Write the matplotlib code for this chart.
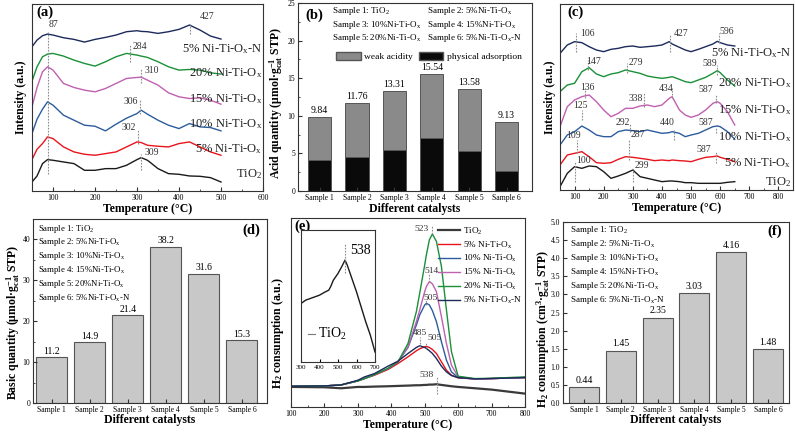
import numpy as np
import matplotlib.pyplot as plt
from matplotlib.patches import Patch
from matplotlib.ticker import MultipleLocator, FormatStrFormatter

plt.rcParams['font.family'] = ['Liberation Serif', 'DejaVu Serif']
plt.rcParams['mathtext.fontset'] = 'custom'
plt.rcParams['mathtext.rm'] = 'Liberation Serif'
plt.rcParams['mathtext.it'] = 'Liberation Serif:italic'
plt.rcParams['mathtext.bf'] = 'Liberation Serif:bold'
plt.rcParams['axes.linewidth'] = 0.8
plt.rcParams['axes.edgecolor'] = '#333333'

# ---------------- data ----------------
samples = ['Sample 1', 'Sample 2', 'Sample 3', 'Sample 4', 'Sample 5', 'Sample 6']
names = ['TiO$_2$', '5% Ni-Ti-O$_\\mathrm{x}$', '10% Ni-Ti-O$_\\mathrm{x}$', '15% Ni-Ti-O$_\\mathrm{x}$',
         '20% Ni-Ti-O$_\\mathrm{x}$', '5% Ni-Ti-O$_\\mathrm{x}$-N']
sample_desc = ['Sample 1: TiO$_2$', 'Sample 2: 5%Ni-Ti-O$_\\mathrm{x}$',
               'Sample 3: 10%Ni-Ti-O$_\\mathrm{x}$', 'Sample 4: 15%Ni-Ti-O$_\\mathrm{x}$',
               'Sample 5: 20%Ni-Ti-O$_\\mathrm{x}$', 'Sample 6: 5%Ni-Ti-O$_\\mathrm{x}$-N']
colors = ['#1a1a1a', '#e8141c', '#2c5c9c', '#c060b0', '#1a9038', '#1c2a5c']

# (a) NH3-TPD
T_a = [50, 62, 75, 87, 100, 125, 150, 175, 200, 225, 250, 275, 300, 310, 325, 350, 375, 400, 425, 450, 475, 500]
a_tio2 = [27, 45, 82, 94, 92, 87, 82, 62, 62, 67, 67, 77, 94, 100, 92, 67, 52, 50, 45, 44, 40, 27]
a_ni5 = [94, 125, 142, 162, 157, 132, 117, 110, 107, 112, 117, 132, 147, 145, 137, 134, 132, 142, 147, 132, 117, 107]
a_ni10 = [172, 215, 245, 267, 257, 227, 212, 197, 194, 180, 200, 218, 232, 242, 230, 212, 197, 187, 202, 192, 190, 180]
a_ni15 = [252, 310, 357, 372, 362, 322, 310, 302, 297, 307, 322, 337, 340, 341, 332, 317, 294, 282, 277, 279, 272, 260]
a_ni20 = [329, 372, 402, 410, 412, 404, 392, 382, 374, 387, 402, 412, 407, 404, 400, 387, 372, 362, 364, 362, 354, 350]
a_ni5n = [432, 452, 465, 470, 467, 459, 454, 446, 454, 460, 467, 477, 480, 478, 477, 472, 477, 484, 497, 482, 464, 455]

# (b) acid quantity
acid_total = [9.84, 11.76, 13.31, 15.54, 13.58, 9.13]
acid_phys = [4.1, 4.55, 5.45, 7.1, 5.35, 2.6]

# (c) CO2-TPD
T_c = [50, 75, 100, 125, 150, 175, 200, 225, 250, 275, 300, 325, 350, 375, 400, 425, 435, 460, 480, 500, 525, 550, 575, 590, 600, 625, 650]
c_tio2 = [10, 50, 70, 65, 72, 70, 55, 35, 42, 50, 60, 40, 35, 30, 25, 27, 27, 25, 22, 22, 20, 20, 20, 20, 20, 23, 25]
c_ni5 = [75, 105, 110, 115, 100, 82, 80, 82, 92, 100, 98, 95, 92, 88, 90, 88, 90, 88, 87, 85, 92, 98, 100, 102, 98, 92, 85]
c_ni10 = [135, 165, 175, 192, 180, 165, 160, 160, 175, 180, 178, 175, 180, 175, 170, 172, 175, 170, 160, 165, 170, 180, 190, 192, 190, 175, 152]
c_ni15 = [190, 250, 270, 280, 285, 265, 240, 220, 230, 245, 245, 252, 255, 250, 255, 275, 280, 240, 225, 218, 225, 240, 260, 265, 260, 235, 195]
c_ni20 = [295, 315, 320, 355, 367, 348, 340, 348, 352, 360, 355, 350, 342, 338, 335, 338, 340, 332, 325, 322, 330, 338, 350, 358, 352, 330, 312]
c_ni5n = [410, 435, 445, 442, 430, 420, 415, 422, 425, 430, 432, 428, 430, 432, 435, 445, 438, 428, 420, 415, 422, 430, 438, 446, 442, 435, 432]

# (d) basic quantity
basic = [11.2, 14.9, 21.4, 38.2, 31.6, 15.3]

# (e) H2-TPR
T_e = [100, 200, 250, 300, 320, 350, 390, 420, 450, 475, 485, 500, 505, 514, 523, 535, 550, 565, 580, 600, 650, 700, 800]
e_tio2 = [60, 59, 56, 60, 60, 61, 62, 63, 64, 65, 65, 66, 66, 67, 67, 68, 66, 64, 62, 60, 56, 52, 40]
e_ni5 = [62, 63, 66, 78, 85, 95, 112, 130, 150, 168, 174, 180, 181, 178, 172, 160, 135, 110, 95, 87, 84, 85, 88]
e_ni10 = [62, 63, 66, 78, 85, 97, 115, 135, 178, 245, 275, 305, 310, 305, 288, 255, 195, 140, 105, 88, 84, 85, 88]
e_ni15 = [62, 63, 66, 78, 85, 97, 115, 135, 180, 255, 290, 345, 360, 375, 368, 345, 270, 190, 125, 90, 84, 85, 88]
e_ni20 = [62, 63, 66, 78, 85, 97, 115, 135, 190, 285, 340, 425, 455, 500, 517, 495, 420, 290, 165, 92, 85, 86, 90]
e_ni5n = [62, 63, 66, 80, 90, 100, 122, 137, 160, 178, 183, 178, 175, 168, 160, 145, 122, 105, 94, 88, 84, 85, 88]
T_ins = [300, 325, 350, 375, 400, 425, 450, 460, 475, 500, 520, 538, 550, 575, 600, 625, 650, 675, 700]
ins_tio2 = [175, 185, 190, 195, 200, 208, 215, 225, 245, 265, 285, 305, 290, 250, 210, 165, 120, 80, 30]

# (f) H2 consumption
h2 = [0.44, 1.45, 2.35, 3.03, 4.16, 1.48]

W, H = 795, 432
fig = plt.figure(figsize=(W / 100, H / 100), dpi=100)


def box(l, t, r, b):
    return [l / W, 1 - b / H, (r - l) / W, (b - t) / H]


def style(ax, xlabel, ylabel, xl, yl):
    ax.tick_params(which='both', direction='in', labelsize=5.5, pad=2, color='#333333')
    ax.tick_params(which='major', length=3)
    ax.tick_params(which='minor', length=1.6)
    ax.set_xlabel(xlabel, fontsize=8.5, fontweight='bold')
    ax.set_ylabel(ylabel, fontsize=8.5, fontweight='bold')
    ax.xaxis.set_label_coords(0.5, xl)
    ax.yaxis.set_label_coords(yl[0], yl[1])
    ax.xaxis.label.set_va('center')
    ax.yaxis.label.set_va('center')


dash = dict(color='#8c8c8c', lw=0.8, ls=(0, (1.5, 1.2)))

# ---------------- (a) ----------------
ax = fig.add_axes(box(32, 4, 263, 191))
for y, c in zip([a_tio2, a_ni5, a_ni10, a_ni15, a_ni20, a_ni5n], colors):
    ax.plot(T_a, y, color=c, lw=1.0)
ax.set_xlim(50, 600)
ax.set_ylim(0, 560)
ax.set_yticks([])
ax.xaxis.set_major_locator(MultipleLocator(100))
ax.xaxis.set_minor_locator(MultipleLocator(50))
for T, y0, y1 in [(87, 52, 477), (427, 470, 500), (284, 385, 440), (310, 322, 367),
                  (306, 230, 272), (302, 142, 187), (309, 62, 112)]:
    ax.plot([T, T], [y0, y1], **dash)
for s, T, y in [('87', 101, 500), ('427', 468, 522), ('284', 308, 432), ('310', 336, 362),
                ('306', 284, 267), ('302', 280, 189), ('309', 335, 114)]:
    ax.text(T, y, s, fontsize=7, ha='center', va='center', color='#333333')
for s, y in zip(names, [52, 124, 200, 275, 354, 424]):
    ax.text(598, y, s, fontsize=9, ha='right', va='center', color='#222222')
ax.text(0.02, 0.955, '(a)', transform=ax.transAxes, fontsize=10.5, fontweight='bold', va='center')
style(ax, 'Temperature (°C)', 'Intensity (a.u.)', -0.096, (-0.048, 0.5))

# ---------------- (b) ----------------
ax = fig.add_axes(box(298, 3, 532, 191))
x = np.arange(1, 7)
weak = np.array(acid_total) - np.array(acid_phys)
ax.bar(x, acid_phys, width=0.62, color='#0a0a0a', edgecolor='#555555', lw=0.7)
ax.bar(x, weak, bottom=acid_phys, width=0.62, color='#8a8a8a', edgecolor='#555555', lw=0.7)
for xi, v in zip(x, acid_total):
    ax.text(xi, v + 0.25, f'{v:.2f}', ha='center', va='bottom', fontsize=7)
ax.set_xlim(0.42, 6.68)
ax.set_ylim(0, 25)
ax.set_xticks(x)
ax.set_xticklabels(samples)
ax.yaxis.set_major_locator(MultipleLocator(5))
ax.yaxis.set_minor_locator(MultipleLocator(2.5))
for i, s in enumerate(sample_desc):
    col, row = i % 2, i // 2
    ax.text(0.145 + col * 0.405, 0.955 - row * 0.071, s, transform=ax.transAxes,
            fontsize=6.5, va='center')
ax.text(0.03, 0.935, '(b)', transform=ax.transAxes, fontsize=10.5, fontweight='bold', va='center')
ax.legend(handles=[Patch(facecolor='#8a8a8a', edgecolor='#555555', label='weak acidity'),
                   Patch(facecolor='#0a0a0a', edgecolor='#555555', label='physical adsorption')],
          ncol=2, loc='center', bbox_to_anchor=(0.56, 0.715), frameon=False, fontsize=6.8,
          handlelength=2.6, handleheight=0.9, columnspacing=0.6, handletextpad=0.4)
style(ax, 'Different catalysts', 'Acid quantity (μmol·g$_{\\mathbf{cat}}^{\\mathbf{-1}}$ STP)',
      -0.096, (-0.092, 0.47))

# ---------------- (c) ----------------
ax = fig.add_axes(box(560, 4, 793, 190))
for y, c in zip([c_tio2, c_ni5, c_ni10, c_ni15, c_ni20, c_ni5n], colors):
    ax.plot(T_c, y, color=c, lw=1.0)
ax.set_xlim(50, 850)
ax.set_ylim(0, 558)
ax.set_yticks([])
ax.xaxis.set_major_locator(MultipleLocator(100))
ax.xaxis.set_minor_locator(MultipleLocator(50))
for T, y0, y1 in [(106, 415, 470), (427, 415, 465), (596, 440, 470), (147, 360, 390),
                  (279, 350, 380), (589, 345, 375), (136, 275, 305), (338, 250, 290),
                  (434, 275, 305), (587, 260, 285), (125, 210, 240), (292, 175, 200),
                  (440, 150, 180), (587, 170, 190), (109, 110, 150), (287, 90, 150),
                  (587, 80, 115), (100, 25, 85), (299, 25, 70)]:
    ax.plot([T, T], [y0, y1], **dash)
for s, T, y in [('106', 144, 470), ('427', 464, 470), ('596', 624, 475), ('147', 164, 385),
                ('279', 311, 383), ('589', 565, 380), ('136', 144, 308), ('338', 311, 275),
                ('434', 414, 305), ('587', 551, 300), ('125', 119, 252), ('292', 265, 202),
                ('440', 418, 202), ('587', 551, 202), ('109', 96, 162), ('287', 319, 167),
                ('587', 542, 120), ('100', 130, 88), ('299', 330, 75)]:
    ax.text(T, y, s, fontsize=7, ha='center', va='center', color='#333333')
for s, y in zip(names, [25, 80, 160, 240, 322, 412]):
    ax.text(845, y, s, fontsize=9, ha='right', va='center', color='#222222')
ax.text(0.03, 0.955, '(c)', transform=ax.transAxes, fontsize=10.5, fontweight='bold', va='center')
style(ax, 'Temperature (°C)', 'Intensity (a.u.)', -0.095, (-0.043, 0.5))

# ---------------- (d) ----------------
ax = fig.add_axes(box(33, 219, 267, 403))
ax.bar(x, basic, width=0.81, color='#c8c8c8', edgecolor='#555555', lw=0.8)
for xi, v in zip(x, basic):
    ax.text(xi, v + 0.35, f'{v:.1f}', ha='center', va='bottom', fontsize=7)
ax.set_xlim(0.51, 6.66)
ax.set_ylim(0, 45)
ax.set_xticks(x)
ax.set_xticklabels(samples)
ax.yaxis.set_major_locator(MultipleLocator(10))
ax.yaxis.set_minor_locator(MultipleLocator(5))
for i, s in enumerate(sample_desc):
    ax.text(0.02, 0.948 - i * 0.075, s, transform=ax.transAxes, fontsize=6.3, va='center')
ax.text(0.97, 0.94, '(d)', transform=ax.transAxes, fontsize=10.5, fontweight='bold',
        ha='right', va='center')
style(ax, 'Different catalysts', 'Basic quantity (μmol·g$_{\\mathbf{cat}}^{\\mathbf{-1}}$ STP)',
      -0.092, (-0.084, 0.44))

# ---------------- (e) ----------------
ax = fig.add_axes(box(291, 218, 525, 407))
lws = [1.6, 1.0, 1.0, 1.0, 1.0, 1.0]
for y, c, n, lw in zip([e_tio2, e_ni5, e_ni10, e_ni15, e_ni20, e_ni5n], colors, names, lws):
    ax.plot(T_e, y, color=c if c != '#1a1a1a' else '#3a3a3a', lw=lw, label=n)
ax.set_xlim(100, 800)
ax.set_ylim(0, 565)
ax.set_yticks([])
ax.xaxis.set_major_locator(MultipleLocator(100))
ax.xaxis.set_minor_locator(MultipleLocator(50))
for T, y0, y1 in [(523, 517, 540), (514, 375, 400), (505, 305, 320), (485, 180, 210),
                  (505, 175, 195), (538, 40, 90)]:
    ax.plot([T, T], [y0, y1], **dash)
for s, T, y in [('523', 490, 533), ('514', 520, 407), ('505', 519, 327), ('485', 486, 222),
                ('505', 530, 205), ('538', 505, 97)]:
    ax.text(T, y, s, fontsize=6.8, ha='center', va='center', color='#333333')
ax.legend(loc='upper left', bbox_to_anchor=(0.6, 0.995), frameon=False, fontsize=6.6,
          handlelength=2.4, labelspacing=0.3, handletextpad=0.3, borderpad=0.2)
ax.text(0.015, 0.955, '(e)', transform=ax.transAxes, fontsize=10.5, fontweight='bold', va='center')
style(ax, 'Temperature (°C)', 'H$_{\\mathbf{2}}$ consumption (a.u.)', -0.095, (-0.055, 0.39))

axi = fig.add_axes(box(301, 230, 375, 362))
axi.plot(T_ins, ins_tio2, color='#1a1a1a', lw=1.0)
axi.plot([538, 538], [265, 355], **dash)
axi.text(619, 335, '538', fontsize=10, ha='center', va='center')
axi.plot([340, 376], [85, 85], color='#777777', lw=0.8)
axi.text(394, 85, 'TiO$_2$', fontsize=10, va='center')
axi.set_xlim(300, 700)
axi.set_ylim(0, 395)
axi.set_yticks([])
axi.xaxis.set_major_locator(MultipleLocator(100))
axi.tick_params(direction='in', labelsize=5, pad=2, length=2)

# ---------------- (f) ----------------
ax = fig.add_axes(box(563, 222, 789, 403))
ax.bar(x, h2, width=0.82, color='#c8c8c8', edgecolor='#555555', lw=0.8)
for xi, v in zip(x, h2):
    ax.text(xi, v + 0.07, f'{v:.2f}', ha='center', va='bottom', fontsize=7)
ax.set_xlim(0.43, 6.57)
ax.set_ylim(0, 5)
ax.set_xticks(x)
ax.set_xticklabels(samples)
ax.yaxis.set_major_locator(MultipleLocator(0.5))
ax.yaxis.set_major_formatter(FormatStrFormatter('%.1f'))
for i, s in enumerate(sample_desc):
    ax.text(0.03, 0.955 - i * 0.077, s, transform=ax.transAxes, fontsize=6.5, va='center')
ax.text(0.97, 0.95, '(f)', transform=ax.transAxes, fontsize=10.5, fontweight='bold',
        ha='right', va='center')
style(ax, 'Different catalysts',
      'H$_{\\mathbf{2}}$ consumption (cm$^{\\mathbf{3}}$·g$_{\\mathbf{cat}}^{\\mathbf{-1}}$ STP)',
      -0.094, (-0.088, 0.41))

plt.savefig('out.png', dpi=100)
